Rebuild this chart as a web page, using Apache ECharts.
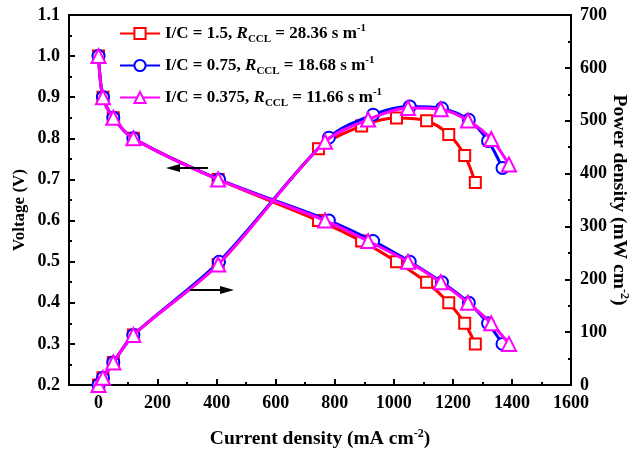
<!DOCTYPE html>
<html>
<head>
<meta charset="utf-8">
<script src="https://cdn.jsdelivr.net/npm/echarts@6/dist/echarts.min.js"></script>
<style>
html,body{margin:0;padding:0;background:#fff;}
#chart{width:635px;height:456px;}
</style>
</head>
<body>
<div id="chart"></div>
<script>
// ---- data ----
var seriesNames = ['I/C = 1.5', 'I/C = 0.75', 'I/C = 0.375'];
var rccl = ['28.36', '18.68', '11.66'];

var currentRed = [0, 15, 50, 118, 405, 745, 891, 1009, 1111, 1186, 1240, 1276];
var voltageRed = [1.0, 0.9, 0.85, 0.8, 0.7, 0.6, 0.55, 0.5, 0.45, 0.4, 0.35, 0.3];
var powerRed   = [0, 13.5, 42.5, 94.4, 228, 447, 490, 505, 500, 474, 434, 383];

var currentBlue = [0, 15, 50, 118, 408, 780, 930, 1054, 1163, 1254, 1319, 1368];
var voltageBlue = [1.0, 0.9, 0.85, 0.8, 0.7, 0.6, 0.55, 0.5, 0.45, 0.4, 0.35, 0.3];
var powerBlue   = [0, 13.5, 42.5, 94.4, 233, 468, 511.5, 527, 523.4, 501.6, 461.7, 410.4];

var currentMag = [0, 15, 50, 118, 405, 767, 913, 1048, 1159, 1251, 1330, 1390];
var voltageMag = [1.0, 0.9, 0.85, 0.8, 0.7, 0.6, 0.55, 0.5, 0.45, 0.4, 0.35, 0.3];
var powerMag   = [0, 13.5, 42.5, 94.4, 228, 460.2, 502.2, 524, 521.6, 500.4, 465.5, 417];

var xMajorTicks = [0, 200, 400, 600, 800, 1000, 1200, 1400, 1600];
var xMinorTicks = [100, 300, 500, 700, 900, 1100, 1300, 1500];

// ---- build ----
function pairs(xs, ys){ return xs.map(function(x,i){ return [x, ys[i]]; }); }
var FONT = '"Liberation Serif", "Times New Roman", serif';
var colors = ['#ff0000', '#0000ff', '#ff00ff'];
var symbols = ['emptyRect', 'emptyCircle', 'emptyTriangle'];
var symSizes = [11, 12, 14];
var sets = [
  [currentRed, voltageRed, powerRed],
  [currentBlue, voltageBlue, powerBlue],
  [currentMag, voltageMag, powerMag]
];

var series = [];
sets.forEach(function(s, k){
  [1, 2].forEach(function(j){
    series.push({
      name: seriesNames[k],
      type: 'line',
      xAxisIndex: 0,
      yAxisIndex: j - 1,
      data: pairs(s[0], s[j]),
      smooth: 0.3,
      symbol: symbols[k],
      symbolSize: symSizes[k],
      color: colors[k],
      lineStyle: {width: 3, color: colors[k]},
      itemStyle: {color: colors[k], borderColor: colors[k], borderWidth: 2},
      z: 2 + k,
      animation: false
    });
  });
});

var axisLabelStyle = {color: '#000', fontFamily: FONT, fontWeight: 'bold', fontSize: 18};
var supStyle = {fontFamily: FONT, fontWeight: 'bold', fontSize: 12, color: '#000', padding: [0, 0, 10, 0]};

var option = {
  animation: false,
  backgroundColor: '#fff',
  grid: {left: 69, right: 64, top: 15, bottom: 71, outerBoundsMode: 'none', containLabel: false,
         show: true, borderColor: '#000', borderWidth: 2, backgroundColor: 'transparent'},
  legend: {
    orient: 'vertical',
    left: 114,
    top: 18,
    itemGap: 10,
    itemWidth: 40,
    itemHeight: 14,
    data: seriesNames,
    formatter: function(name){
      var i = seriesNames.indexOf(name);
      return name + ', {r|R}{sub|CCL} = ' + rccl[i] + ' s m{sup|-1}';
    },
    textStyle: {
      color: '#000', fontFamily: FONT, fontWeight: 'bold', fontSize: 17,
      rich: {
        r: {fontFamily: FONT, fontWeight: 'bold', fontStyle: 'italic', fontSize: 17, color: '#000'},
        sub: {fontFamily: FONT, fontWeight: 'bold', fontSize: 11, color: '#000', padding: [12, 0, 0, 0]},
        sup: {fontFamily: FONT, fontWeight: 'bold', fontSize: 11, color: '#000', padding: [0, 0, 10, 0]}
      }
    }
  },
  xAxis: [{
    type: 'value', min: -100, max: 1600,
    position: 'bottom',
    name: 'Current density (mA cm{sup|-2})',
    nameLocation: 'middle', nameGap: 43, nameMoveOverlap: false,
    nameTextStyle: {color: '#000', fontFamily: FONT, fontWeight: 'bold', fontSize: 19.5, rich: {sup: supStyle}},
    axisLine: {show: true, onZero: false, lineStyle: {color: '#000', width: 2}},
    axisTick: {show: true, inside: true, length: 6, customValues: xMajorTicks, lineStyle: {color: '#000', width: 2}},
    axisLabel: Object.assign({customValues: xMajorTicks, margin: 9, formatter: function(v){ return String(v); }}, axisLabelStyle),
    splitLine: {show: false}
  }, {
    type: 'value', min: -100, max: 1600,
    position: 'bottom',
    axisLine: {show: false, onZero: false},
    axisTick: {show: true, inside: true, length: 3, customValues: xMinorTicks, lineStyle: {color: '#000', width: 2}},
    axisLabel: {show: false},
    splitLine: {show: false}
  }],
  yAxis: [{
    type: 'value', min: 0.2, max: 1.1, interval: 0.1,
    position: 'left',
    name: 'Voltage (V)',
    nameLocation: 'middle', nameGap: 41, nameRotate: 90, nameMoveOverlap: false,
    nameTextStyle: {color: '#000', fontFamily: FONT, fontWeight: 'bold', fontSize: 17, padding: [0, 20, 0, 0]},
    axisLine: {show: true, onZero: false, lineStyle: {color: '#000', width: 2}},
    axisTick: {show: true, inside: true, length: 6, lineStyle: {color: '#000', width: 2}},
    minorTick: {show: true, splitNumber: 2, length: 3, lineStyle: {color: '#000', width: 2}},
    axisLabel: Object.assign({margin: 9, formatter: function(v){ return v.toFixed(1); }}, axisLabelStyle),
    splitLine: {show: false}
  }, {
    type: 'value', min: 0, max: 700, interval: 100,
    position: 'right',
    name: 'Power density (mW cm{sup|-2})',
    nameLocation: 'middle', nameGap: 37, nameRotate: -90, nameMoveOverlap: false,
    nameTextStyle: {color: '#000', fontFamily: FONT, fontWeight: 'bold', fontSize: 19.5, rich: {sup: supStyle}},
    axisLine: {show: true, onZero: false, lineStyle: {color: '#000', width: 2}},
    axisTick: {show: true, inside: true, length: 6, lineStyle: {color: '#000', width: 2}},
    minorTick: {show: true, splitNumber: 2, length: 3, lineStyle: {color: '#000', width: 2}},
    axisLabel: Object.assign({margin: 9, formatter: function(v){ return String(v); }}, axisLabelStyle),
    splitLine: {show: false}
  }],
  graphic: [
    {type: 'line', shape: {x1: 178, y1: 168, x2: 208, y2: 168}, style: {stroke: '#000', lineWidth: 2}, z: 10},
    {type: 'polygon', shape: {points: [[166, 168], [180, 164], [180, 172]]}, style: {fill: '#000'}, z: 10},
    {type: 'line', shape: {x1: 190, y1: 290, x2: 222, y2: 290}, style: {stroke: '#000', lineWidth: 2}, z: 10},
    {type: 'polygon', shape: {points: [[234, 290], [220, 286], [220, 294]]}, style: {fill: '#000'}, z: 10}
  ],
  series: series
};

var chart = echarts.init(document.getElementById('chart'), null, {renderer: 'canvas'});
chart.setOption(option);
</script>
</body>
</html>
